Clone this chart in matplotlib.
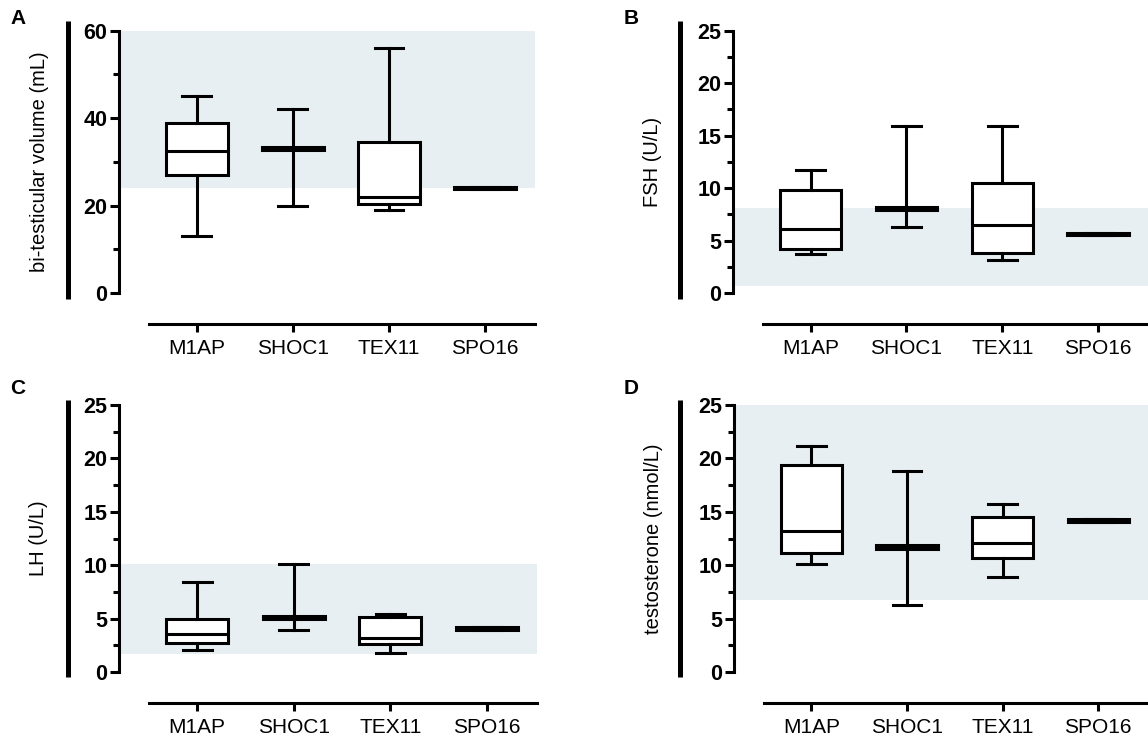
import matplotlib
matplotlib.use("Agg")
import matplotlib.pyplot as plt
from matplotlib.lines import Line2D

plt.rcParams['font.family'] = ['Liberation Sans', 'DejaVu Sans']

categories = ["M1AP", "SHOC1", "TEX11", "SPO16"]

# Panel A: bi-testicular volume (mL)
a_lo = [13, 20, 19, 23.7]
a_q1 = [27, 32.7, 20.3, 23.7]
a_med = [32.5, 33, 22, 24]
a_q3 = [39, 33.3, 34.6, 24.3]
a_hi = [45, 42, 56, 24.3]
a_ref = [24, 60]

# Panel B: FSH (U/L)
b_lo = [3.7, 6.3, 3.1, 5.55]
b_q1 = [4.2, 7.9, 3.85, 5.55]
b_med = [6.1, 8.0, 6.5, 5.65]
b_q3 = [9.8, 8.15, 10.5, 5.75]
b_hi = [11.7, 15.9, 15.9, 5.75]
b_ref = [0.7, 8.1]

# Panel C: LH (U/L)
c_lo = [2.1, 3.9, 1.8, 3.95]
c_q1 = [2.7, 4.95, 2.6, 3.95]
c_med = [3.6, 5.05, 3.15, 4.1]
c_q3 = [5.0, 5.2, 5.15, 4.2]
c_hi = [8.4, 10.1, 5.45, 4.2]
c_ref = [1.7, 10.1]

# Panel D: testosterone (nmol/L)
d_lo = [10.1, 6.3, 8.9, 14.05]
d_q1 = [11.1, 11.55, 10.65, 14.05]
d_med = [13.2, 11.7, 12.1, 14.15]
d_q3 = [19.4, 11.85, 14.55, 14.3]
d_hi = [21.2, 18.8, 15.7, 14.3]
d_ref = [6.7, 25]

W, H = 1148, 742
fig = plt.figure(figsize=(W / 100, H / 100), dpi=100)

SHADE = '#e8eff3'
LW = 2.2


def px_axes(left, top, right, bottom):
    return fig.add_axes([left / W, 1 - bottom / H, (right - left) / W, (bottom - top) / H])


def panel(rect, lo, q1, med, q3, hi, ref, ymax, major, minor, ylabel, letter, letter_xy, bar_x, bar_y, ylab_x):
    ax = px_axes(*rect)
    ax.axhspan(ref[0], ref[1], color=SHADE, lw=0, zorder=0)
    stats = []
    for i in range(len(categories)):
        stats.append(dict(whislo=lo[i], q1=q1[i], med=med[i], q3=q3[i], whishi=hi[i], fliers=[], label=categories[i]))
    ax.bxp(stats, positions=range(len(categories)), widths=0.64, showfliers=False,
           patch_artist=True,
           boxprops=dict(facecolor='white', edgecolor='black', linewidth=LW),
           medianprops=dict(color='black', linewidth=LW, solid_capstyle='butt'),
           whiskerprops=dict(color='black', linewidth=LW),
           capprops=dict(color='black', linewidth=LW),
           capwidths=0.3)
    ax.set_xlim(-0.81, 3.52)
    ax.set_ylim(0, ymax)
    ax.set_yticks(major)
    ax.set_yticks(minor, minor=True)
    ax.set_yticklabels([str(v) for v in major], fontweight='bold')
    ax.set_xticks(range(len(categories)))
    ax.set_xticklabels(categories)
    for s in ['top', 'right']:
        ax.spines[s].set_visible(False)
    ax.spines['left'].set_linewidth(LW)
    ax.spines['bottom'].set_linewidth(LW)
    ax.spines['bottom'].set_position(('outward', 22))
    ax.spines['bottom'].set_bounds(-0.5, 3.52)
    ax.spines['left'].set_bounds(0, ymax)
    ax.tick_params(axis='y', which='major', length=6.5, width=LW, pad=2, labelsize=15.5)
    ax.tick_params(axis='y', which='minor', length=4, width=LW)
    ax.tick_params(axis='x', which='major', length=6, width=LW, pad=5, labelsize=15)
    ax.set_ylabel(ylabel, fontsize=14.5)
    ax_w = rect[2] - rect[0]
    ax.yaxis.set_label_coords((ylab_x - rect[0]) / ax_w, 0.5)
    fig.text(letter_xy[0] / W, 1 - letter_xy[1] / H, letter, fontsize=15, fontweight='bold',
             ha='center', va='center')
    fig.add_artist(Line2D([bar_x / W, bar_x / W], [1 - bar_y[0] / H, 1 - bar_y[1] / H],
                          transform=fig.transFigure, color='black', lw=3.6, solid_capstyle='butt'))
    return ax


panel((119, 30.7, 535, 293), a_lo, a_q1, a_med, a_q3, a_hi, a_ref, 60,
      [0, 20, 40, 60], [10, 30, 50], 'bi-testicular volume (mL)', 'A', (18, 19), 68, (21, 299), 49)
panel((733, 30.7, 1148, 293), b_lo, b_q1, b_med, b_q3, b_hi, b_ref, 25,
      [0, 5, 10, 15, 20, 25], [2.5, 7.5, 12.5, 17.5, 22.5], 'FSH (U/L)', 'B', (631, 19), 680, (21, 299), 662)
panel((119, 405, 537, 672), c_lo, c_q1, c_med, c_q3, c_hi, c_ref, 25,
      [0, 5, 10, 15, 20, 25], [2.5, 7.5, 12.5, 17.5, 22.5], 'LH (U/L)', 'C', (18, 389), 68, (400, 677), 48)
panel((734, 405, 1148, 672), d_lo, d_q1, d_med, d_q3, d_hi, d_ref, 25,
      [0, 5, 10, 15, 20, 25], [2.5, 7.5, 12.5, 17.5, 22.5], 'testosterone (nmol/L)', 'D', (631, 389), 680, (400, 677), 663)

fig.savefig('out.png', dpi=100)
